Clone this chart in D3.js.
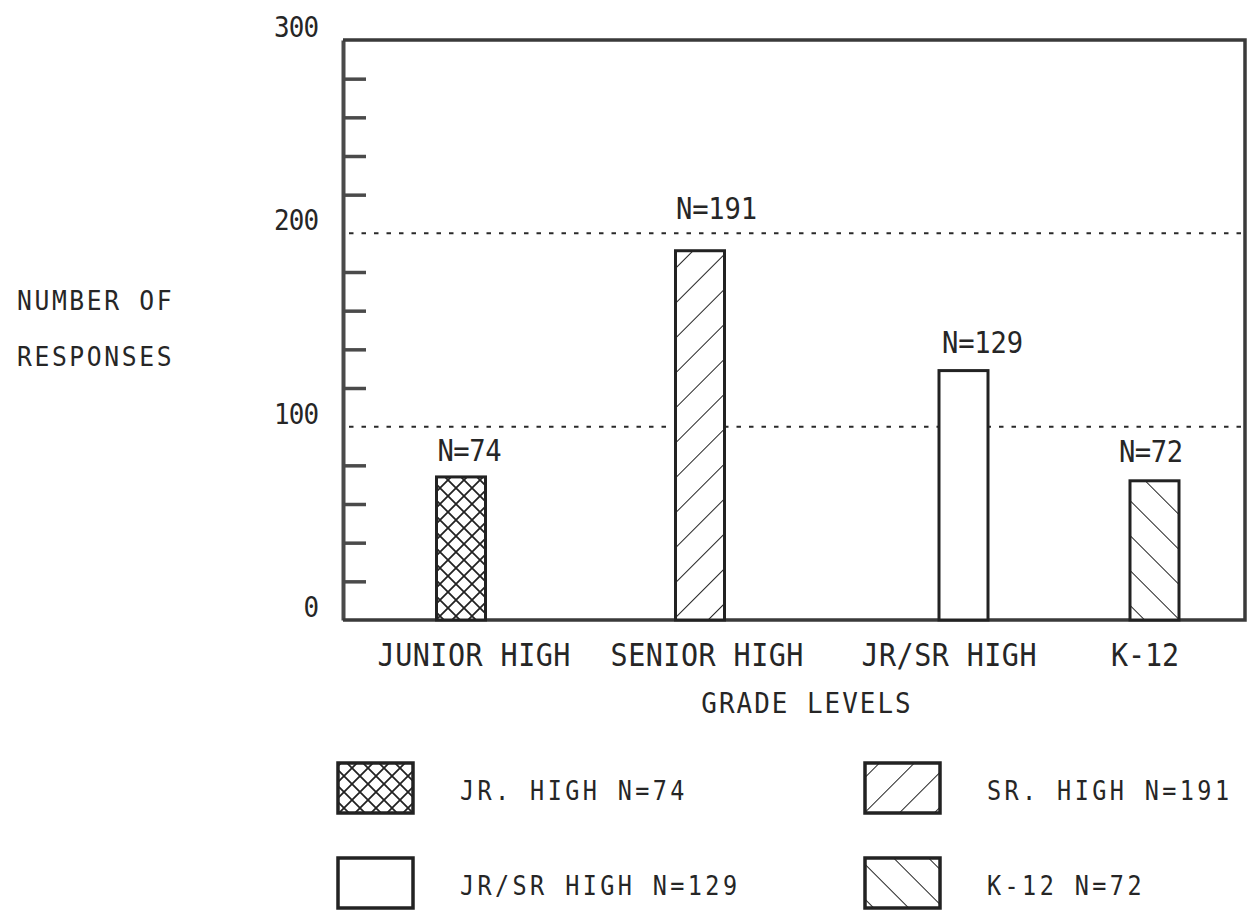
<!DOCTYPE html>
<html>
<head>
<meta charset="utf-8">
<script src="https://cdn.jsdelivr.net/npm/d3@7"></script>
<style>
  html, body { margin: 0; padding: 0; background: #fff; }
  svg { display: block; }
  text { font-family: "DejaVu Sans Mono", "Liberation Mono", monospace; fill: #262626; }
</style>
</head>
<body>
<svg id="chart" width="1250" height="914"></svg>
<script>
// ---------------- data ----------------
const categories   = ["JUNIOR HIGH", "SENIOR HIGH", "JR/SR HIGH", "K-12"];
const responses    = [74, 191, 129, 72];
const barLabels    = ["N=74", "N=191", "N=129", "N=72"];
const legendLabels = ["JR. HIGH N=74", "SR. HIGH N=191", "JR/SR HIGH N=129", "K-12 N=72"];
const fillPatterns = ["cross", "fwd", "none", "back"];
const yMajorTicks  = [0, 100, 200, 300];
const yTickLabels  = ["0", "100", "200", "300"];
const gridValues   = [100, 200];
const yTitle       = ["NUMBER OF", "RESPONSES"];
const xTitle       = "GRADE LEVELS";

// ---------------- layout ----------------
const frame = { left: 343, right: 1245, top: 40, bottom: 620 };
const barCenters = [461, 700, 963.5, 1154.5];
const barWidth = 49;
const catLabelDx = [13, 7, -14.5, -9.5];
const barLabelDx = [8.5, 16.5, 19, -3.5];
const barLabelGap = [15.5, 32, 18, 19];
const legendCols = [338, 865], legendRows = [763, 858];

const svg = d3.select("#chart");

// text helper: capH = cap height in px, adv = per-character advance
// glyphs are squeezed horizontally (plotter-style lettering) and spaced out
const CAP = 0.729, SX = 0.9;
function txt(g, s, x, y, capH, adv, anchor) {
  const fs = capH / CAP;
  return g.append("text")
    .attr("transform", `translate(${x},${y}) scale(${SX},1)`)
    .attr("x", 0).attr("y", 0)
    .attr("font-size", fs.toFixed(2))
    .attr("text-anchor", anchor || "start")
    .attr("textLength", ((s.length * adv - 3) / SX).toFixed(1))
    .attr("lengthAdjust", "spacing")
    .text(s);
}

// ---------------- patterns ----------------
const defs = svg.append("defs");
function linePattern(id, angle) {
  const p = defs.append("pattern").attr("id", id)
    .attr("patternUnits", "userSpaceOnUse")
    .attr("width", 24.7).attr("height", 24.7)
    .attr("patternTransform", `rotate(${angle})`);
  p.append("line").attr("x1", 0).attr("y1", 0).attr("x2", 0).attr("y2", 24.7)
    .attr("stroke", "#222").attr("stroke-width", 2);
}
linePattern("fwd", 45);
linePattern("back", -45);
const cp = defs.append("pattern").attr("id", "cross")
  .attr("patternUnits", "userSpaceOnUse").attr("width", 16).attr("height", 16);
cp.append("path").attr("d", "M0,0 L16,16 M16,0 L0,16 M-2,14 L2,18 M14,-2 L18,2 M-2,2 L2,-2 M14,18 L18,14")
  .attr("stroke", "#222").attr("stroke-width", 1.8).attr("fill", "none");
const fillOf = p => p === "none" ? "none" : `url(#${p})`;

// ---------------- scales ----------------
const y = d3.scaleLinear().domain([0, 300]).range([frame.bottom, frame.top]);
const x = d3.scaleOrdinal().domain(categories).range(barCenters);

// ---------------- gridlines ----------------
svg.append("g").selectAll("line").data(gridValues).join("line")
  .attr("x1", frame.left + 6).attr("x2", frame.right - 4)
  .attr("y1", d => y(d)).attr("y2", d => y(d))
  .attr("stroke", "#2a2a2a").attr("stroke-width", 2)
  .attr("stroke-dasharray", "4.5,8");

// ---------------- left axis with inward minor ticks ----------------
const minorTicks = d3.range(20, 300, 20).filter(v => v % 100 !== 0);
const axisG = svg.append("g").attr("transform", `translate(${frame.left},0)`)
  .call(d3.axisRight(y).tickValues(minorTicks).tickSize(23).tickSizeOuter(0).tickFormat(""));
axisG.select(".domain").attr("stroke", "#4a4a4a").attr("stroke-width", 4);
axisG.selectAll(".tick line").attr("stroke", "#4a4a4a").attr("stroke-width", 3.5);

// tick labels
const tl = svg.append("g");
yMajorTicks.forEach((v, i) => txt(tl, yTickLabels[i], 319, y(v) - 3, 21, 16, "end"));

// frame: top, right, bottom
svg.append("path")
  .attr("d", `M${frame.left},${frame.top} H${frame.right} V${frame.bottom} H${frame.left}`)
  .attr("fill", "none").attr("stroke", "#3a3a3a").attr("stroke-width", 3.5);

// ---------------- bars ----------------
const bars = svg.append("g");
categories.forEach((c, i) => {
  const v = responses[i];
  const bx = x(c) - barWidth / 2;
  bars.append("rect").attr("x", bx).attr("y", y(v)).attr("width", barWidth)
    .attr("height", y(0) - y(v)).attr("fill", "#fff");
  bars.append("rect").attr("x", bx).attr("y", y(v)).attr("width", barWidth)
    .attr("height", y(0) - y(v)).attr("fill", fillOf(fillPatterns[i]))
    .attr("stroke", "#222").attr("stroke-width", 3);
  txt(bars, barLabels[i], x(c) + barLabelDx[i], y(v) - barLabelGap[i], 22, 16.8, "middle");
});

// ---------------- axis labels ----------------
const lab = svg.append("g");
categories.forEach((c, i) => txt(lab, c, x(c) + catLabelDx[i], 666, 23, 17.8, "middle"));
txt(lab, xTitle, 806, 713, 21, 17.7, "middle");
txt(lab, yTitle[0], 17, 310, 20, 17.5, "start");
txt(lab, yTitle[1], 17, 366, 20, 17.5, "start");

// ---------------- legend ----------------
const leg = svg.append("g");
legendLabels.forEach((s, i) => {
  const lx = legendCols[i % 2], ly = legendRows[Math.floor(i / 2)];
  leg.append("rect").attr("x", lx).attr("y", ly).attr("width", 75).attr("height", 50)
    .attr("fill", "#fff");
  leg.append("rect").attr("x", lx).attr("y", ly).attr("width", 75).attr("height", 50)
    .attr("fill", fillOf(fillPatterns[i])).attr("stroke", "#222").attr("stroke-width", 3.5);
  txt(leg, s, lx + 122, ly + 37, 19, 17.5, "start");
});
</script>
</body>
</html>
